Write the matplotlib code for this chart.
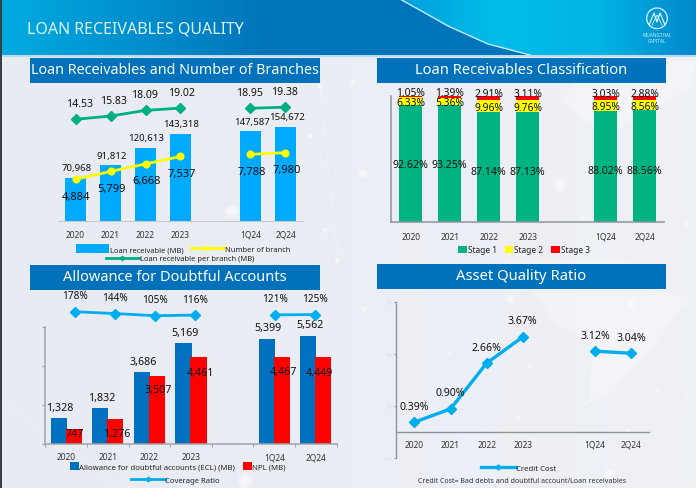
import numpy as np
import matplotlib
matplotlib.use("Agg")
import matplotlib.pyplot as plt
from matplotlib.patches import Rectangle, Polygon, Circle
from matplotlib.colors import LinearSegmentedColormap

W, H = 696, 489

categories = ['2020', '2021', '2022', '2023', '1Q24', '2Q24']
x_pos = [0, 1, 2, 3, 5, 6]

loan_receivable = [70968, 91812, 120613, 143318, 147587, 154672]
branches = [4884, 5799, 6668, 7537, 7788, 7980]
loan_per_branch = [14.53, 15.83, 18.09, 19.02, 18.95, 19.38]

stage1 = [92.62, 93.25, 87.14, 87.13, 88.02, 88.56]
stage2 = [6.33, 5.36, 9.96, 9.76, 8.95, 8.56]
stage3 = [1.05, 1.39, 2.91, 3.11, 3.03, 2.88]

ecl = [1328, 1832, 3686, 5169, 5399, 5562]
npl = [747, 1276, 3507, 4461, 4467, 4449]
coverage = [178, 144, 105, 116, 121, 125]

credit_cost = [0.39, 0.90, 2.66, 3.67, 3.12, 3.04]

plt.rcParams['font.family'] = ['Noto Sans', 'DejaVu Sans']
TXT = '#111111'
TITLE_BLUE = '#0071BB'
LINE_BLUE = '#00AEEF'

fig = plt.figure(figsize=(W / 100, H / 100), dpi=100, facecolor='#EBEEF4')


def px_axes(x0, y0, x1, y1, zorder=2):
    ax = fig.add_axes([x0 / W, 1 - y1 / H, (x1 - x0) / W, (y1 - y0) / H], zorder=zorder)
    ax.patch.set_alpha(0)
    return ax


def label(ax, x, y, text, dx=0, dy=0, size=7.6):
    ax.annotate(text, (x, y), xytext=(dx, dy), textcoords='offset pixels', ha='center', va='center',
                fontsize=size, color=TXT, fontweight='medium', annotation_clip=False, zorder=10)


def row_legend(handles, labels, cx, cy, size=6, hlen=4, mscale=0.5, **kw):
    fig.legend(handles, labels, loc='center', bbox_to_anchor=(cx / W, 1 - cy / H), frameon=False,
               fontsize=size, ncols=len(handles), handlelength=hlen, handletextpad=0.1,
               columnspacing=1.0, borderpad=0, borderaxespad=0, markerscale=mscale,
               labelcolor='#222222', **kw)


def bare(ax):
    ax.set_xlim(-0.5, 6.5)
    ax.axis('off')


# background, header and title bars
bg = fig.add_axes([0, 0, 1, 1], zorder=0)
bg.set_xlim(0, W)
bg.set_ylim(H, 0)
bg.axis('off')

shade = LinearSegmentedColormap.from_list('shade', ['#E6E9F1', '#F1F3F8'])
bg.imshow(np.linspace(0.2, 0.8, 64).reshape(1, -1), extent=(0, W, H, 0), cmap=shade, vmin=0, vmax=1,
          aspect='auto', zorder=0)

continents = [
    [(500, 262), (540, 300), (556, 325), (592, 345), (590, 400), (570, 412), (610, 395), (650, 352),
     (672, 320), (690, 300), (650, 290), (630, 262)],
    [(560, 100), (590, 125), (610, 135), (640, 115), (690, 90), (696, 62), (600, 62)],
]
for pts in continents:
    bg.add_patch(Polygon(pts, closed=True, fc='white', ec='none', alpha=0.3, zorder=1))

net_lines = [[(0, 400), (120, 489)], [(380, 395), (696, 489)], [(640, 489), (696, 380)],
             [(320, 90), (338, 260)]]
for seg in net_lines:
    bg.plot(*zip(*seg), color='white', lw=0.5, alpha=0.4, zorder=1)

glows = [(320, 88, 3), (311, 137, 3), (232, 212, 7), (325, 231, 3), (337, 262, 3), (353, 83, 3),
         (363, 175, 5), (560, 186, 7), (583, 219, 3), (686, 225, 3),
         (245, 482, 8), (364, 310, 3), (449, 354, 3), (511, 300, 5), (530, 368, 3), (518, 419, 3),
         (631, 305, 5), (657, 392, 3), (628, 432, 3), (610, 475, 6)]
for gx, gy, gr in glows:
    for k in np.linspace(1, 0.25, 5):
        bg.add_patch(Circle((gx, gy), gr * k, fc='white', ec='none', alpha=0.22, zorder=1))

head_l = LinearSegmentedColormap.from_list('hl', ['#00ABE0', '#0090CF', '#0074BA', '#0074BA'])
head_r = LinearSegmentedColormap.from_list('hr', ['#00A0DC', '#00BCEA', '#00B4E6', '#0088CC'])
bg.imshow(np.linspace(0, 1, 256).reshape(1, -1), extent=(0, 400, 56, 0), cmap=head_l, aspect='auto', zorder=2)
bg.add_patch(Rectangle((400, 0), 296, 56, fc='#0074BA', ec='none', zorder=2))
curve = [(400, 0), (425, 14), (448, 27), (488, 45), (530, 56)]
im = bg.imshow(np.linspace(0, 1, 256).reshape(1, -1), extent=(400, 696, 56, 0), cmap=head_r, aspect='auto', zorder=3)
clip = Polygon(curve + [(696, 56), (696, 0)], closed=True, transform=bg.transData)
im.set_clip_path(clip)
bg.plot(*zip(*curve), color='#BFEFFA', lw=1.0, zorder=4)
bg.add_patch(Rectangle((0, 56), W, 1.5, fc='#B9DDEE', ec='none', zorder=4))
bg.add_patch(Rectangle((0, 0), 1.5, H, fc='#3A3F44', ec='none', zorder=5))
bg.set_xlim(0, W)
bg.set_ylim(H, 0)

bg.text(27, 29, 'LOAN RECEIVABLES QUALITY', fontsize=11.5, color='#DDF5FA', va='center', ha='left', zorder=5)

# logo
bg.add_patch(Circle((657, 19.3), 10.3, fc='none', ec='#DDF5FA', lw=0.9, zorder=5))
bg.plot([649, 654, 657, 660, 665], [26, 14, 23, 14, 26], color='#DDF5FA', lw=0.9, zorder=5)
bg.plot([652, 657, 662], [26, 16, 26], color='#DDF5FA', lw=0.6, zorder=5)
bg.text(657, 35.5, 'MUANGTHAI', fontsize=3.4, color='#CDEEF8', ha='center', va='center', zorder=5)
bg.text(657, 41.5, 'CAPITAL', fontsize=3.4, color='#CDEEF8', ha='center', va='center', zorder=5)

title_bars = [(30, 59, 320, 84, 'Loan Receivables and Number of Branches', 10.3),
              (377, 59, 666, 84, 'Loan Receivables Classification', 10.6),
              (30, 265.5, 320, 291, 'Allowance for Doubtful Accounts', 10.5),
              (377, 264.5, 666, 290, 'Asset Quality Ratio', 10.7)]
for x0, y0, x1, y1, name, fs in title_bars:
    bg.add_patch(Rectangle((x0, y0), x1 - x0, y1 - y0, fc=TITLE_BLUE, ec='none', zorder=5))
    bg.text((x0 + x1) / 2, (y0 + y1) / 2 - 0.5, name, fontsize=fs, color='white', ha='center', va='center', zorder=6)

# Loan Receivables and Number of Branches
ax1 = px_axes(58, 100, 303, 222.3)
bars1 = ax1.bar(x_pos, loan_receivable, width=0.6, color='#00AAFF', label='Loan receivable (MB)')
ax1.set_xlim(-0.5, 6.5)
ax1.set_ylim(0, 200000)
ax1.set_yticks([])
ax1.set_xticks(x_pos, categories, fontsize=6, color='#333333')
ax1.tick_params(axis='x', length=0, pad=6)
for s in ['top', 'left', 'right']:
    ax1.spines[s].set_visible(False)
ax1.spines['bottom'].set_color('#C8CACE')
for x, v in zip(x_pos, loan_receivable):
    label(ax1, x, v, f'{v:,}', dx=1, dy=10, size=6.9)

ax1b = px_axes(58, 100, 303, 222.3, zorder=3)
bare(ax1b)
ax1b.set_ylim(0, 14220)
yel_style = dict(color='#FFFF00', lw=2, marker='o', ms=4.8)
line_y, = ax1b.plot(x_pos[:4], branches[:4], **yel_style)
ax1b.plot(x_pos[4:], branches[4:], **yel_style)
for x, v in zip(x_pos, branches):
    label(ax1b, x, v, f'{v:,}', dx=1, dy=-17, size=8)

ax1c = px_axes(58, 100, 303, 125, zorder=3)
bare(ax1c)
ax1c.set_ylim(12.65, 22.65)
grn_style = dict(color='#00B082', lw=2, marker='D', ms=4.6)
line_g, = ax1c.plot(x_pos[:4], loan_per_branch[:4], **grn_style)
ax1c.plot(x_pos[4:], loan_per_branch[4:], **grn_style)
for x, v, dx in zip(x_pos, loan_per_branch, [4, 3, -1, 1, -1, -1]):
    label(ax1c, x, v, f'{v:.2f}', dx=dx, dy=16)

row_legend([bars1, line_y], ['Loan receivable (MB)', 'Number of branch'], 183, 249.7, size=5.4, handleheight=1.5, hlen=4.4)
row_legend([line_g], ['Loan receivable per branch (MB)'], 180, 259.5, size=5.4, hlen=4.4)

# Loan Receivables Classification
ax2 = px_axes(391.3, 97, 664, 223)
bottom1 = np.array(stage1)
bottom2 = bottom1 + np.array(stage2)
b_s1 = ax2.bar(x_pos, stage1, width=0.6, color='#00B482')
b_s2 = ax2.bar(x_pos, stage2, width=0.6, bottom=bottom1, color='#FFFF00')
b_s3 = ax2.bar(x_pos, stage3, width=0.6, bottom=bottom2, color='#FF0000')
ax2.set_xlim(-0.5, 6.5)
ax2.set_ylim(0, 100)
ax2.set_yticks([])
ax2.set_xticks(x_pos, categories, fontsize=6, color='#333333')
ax2.tick_params(axis='x', length=0, pad=7)
for s in ['top', 'right']:
    ax2.spines[s].set_visible(False)
for s in ['left', 'bottom']:
    ax2.spines[s].set_color('#8F959B')
    ax2.spines[s].set_linewidth(1.1)
for i, x in enumerate(x_pos):
    label(ax2, x, stage1[i] / 2, f'{stage1[i]:.2f}%', dy=-1 if i < 2 else -4)
    label(ax2, x, bottom1[i] + stage2[i] / 2, f'{stage2[i]:.2f}%', dy=-1.5, size=7.4)
    label(ax2, x, bottom2[i] + stage3[i] / 2, f'{stage3[i]:.2f}%', dy=4, size=7.4)
row_legend([b_s1, b_s2, b_s3], ['Stage 1', 'Stage 2', 'Stage 3'], 524, 250.7, size=6, hlen=1, handleheight=1)

# Allowance for Doubtful Accounts
ax3 = px_axes(45.3, 328.3, 336.7, 445)
x_arr = np.array(x_pos)
b_ecl = ax3.bar(x_arr - 0.18, ecl, width=0.385, color='#0070C0')
b_npl = ax3.bar(x_arr + 0.18, npl, width=0.385, color='#FF0000')
ax3.set_xlim(-0.5, 6.5)
ax3.set_ylim(0, 6000)
ax3.set_yticks([0, 2000, 4000, 6000], labels=[])
ax3.set_xticks(np.arange(-0.5, 7), labels=[])
ax3.set_xticks(x_pos, categories, minor=True, fontsize=6, color='#333333')
ax3.tick_params(axis='x', which='minor', length=0, pad=6)
ax3.tick_params(axis='both', which='major', length=2, color='#A0A4A8')
for s in ['top', 'right']:
    ax3.spines[s].set_visible(False)
for s in ['left', 'bottom']:
    ax3.spines[s].set_color('#A0A4A8')
    ax3.spines[s].set_linewidth(1.1)
for x, v in zip(x_arr - 0.18, ecl):
    label(ax3, x, v, f'{v:,}', dx=1.5, dy=11, size=7.7)
for x, v, dy, dx in zip(x_arr + 0.18, npl, [-4.5, -14, -14, -15, -14, -15], [1.5, 1.5, 1.5, 1.5, 1.5, -4.5]):
    label(ax3, x, v, f'{v:,}', dx=dx, dy=dy, size=7.7)

ax3b = px_axes(55, 305, 335, 325, zorder=3)
bare(ax3b)
ax3b.set_ylim(-46, 318)
cov_style = dict(color=LINE_BLUE, lw=2, marker='D', ms=4.8)
line_c, = ax3b.plot(x_pos[:4], coverage[:4], **cov_style)
ax3b.plot(x_pos[4:], coverage[4:], **cov_style)
for x, v in zip(x_pos, coverage):
    label(ax3b, x, v, f'{v}%', dy=16, size=7.2)

row_legend([b_ecl, b_npl], ['Allowance for doubtful accounts (ECL) (MB)', 'NPL (MB)'], 178, 467.5, size=5.6, hlen=1.1, handleheight=1.1)
row_legend([line_c], ['Coverage Ratio'], 175.5, 481, size=5.5, hlen=4.4)

# Asset Quality Ratio
ax4 = px_axes(396.3, 303.3, 649.3, 459.3)
cc_style = dict(color=LINE_BLUE, lw=2.4, marker='D', ms=5.2)
line_cc, = ax4.plot(x_pos[:4], credit_cost[:4], **cc_style)
ax4.plot(x_pos[4:], credit_cost[4:], **cc_style)
ax4.set_xlim(-0.5, 6.5)
ax4.set_ylim(-1, 5)
ax4.set_yticks([-1, 1, 3, 5], labels=['-1%', '1%', '3%', '5%'], fontsize=3.5, color='#DADFE8')
ax4.tick_params(axis='y', length=1.5, color='#8F959B', pad=1)
ax4.set_xticks([])
for s in ['top', 'right']:
    ax4.spines[s].set_visible(False)
ax4.spines['bottom'].set_position(('data', 0))
for s in ['left', 'bottom']:
    ax4.spines[s].set_color('#8F959B')
    ax4.spines[s].set_linewidth(1.0)
for x, c in zip(x_pos, categories):
    ax4.annotate(c, (x, 0), xytext=(0, -12), textcoords='offset pixels', ha='center', va='center',
                 fontsize=6, color='#333333')
for x, v in zip(x_pos, credit_cost):
    label(ax4, x, v, f'{v:.2f}%', dy=16)
row_legend([line_cc], ['Credit Cost'], 519, 469.3, size=5.6, hlen=4.4)
bg.text(522, 481.3, 'Credit Cost= Bad debts and doubtful account/Loan receivables', fontsize=5.1,
        color='#333333', ha='center', va='center', zorder=6)

fig.savefig('out.png', dpi=100, facecolor=fig.get_facecolor())
